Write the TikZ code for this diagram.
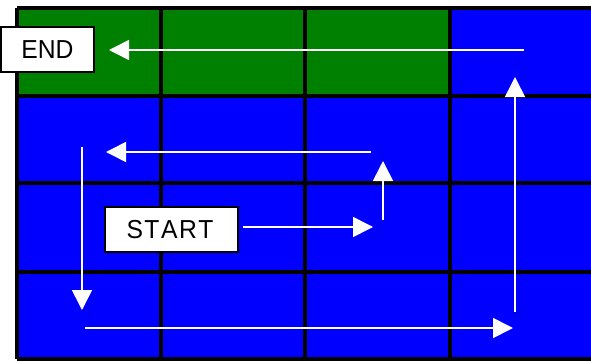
\documentclass[tikz,border=0pt]{standalone}
\usepackage{fontspec}
\setmainfont{Liberation Sans}
\newfontfamily\labelfont[FakeStretch=0.95]{Liberation Sans}
\usetikzlibrary{arrows.meta}
\definecolor{cellgreen}{HTML}{008000}
\definecolor{cellblue}{HTML}{0000FF}
\begin{document}
\begin{tikzpicture}[x=1pt,y=-1pt,
  gridline/.style={line width=3.5pt,black},
  flow/.style={draw=white,line width=1.6pt,-{Triangle[length=20pt,width=20pt]}},
  label/.style={draw=black,line width=1.2pt,fill=white,inner sep=0pt,font=\labelfont\fontsize{26}{28}\selectfont}]
\useasboundingbox (0,0) rectangle (591,361);
\fill[white] (0,0) rectangle (591,361);
% cells
\fill[cellblue] (17,8) rectangle (600,359);
\fill[cellgreen] (17,8) rectangle (450,96);
% grid lines
\foreach \x in {17,161,305,450} \draw[gridline] (\x,8) -- (\x,359);
\foreach \y in {8,96,183,272,359} \draw[gridline] (17,\y) -- (600,\y);
% labels
\node[label,minimum width=93pt,minimum height=45pt] (end) at (47.5,49.5) {END};
\node[label,minimum width=133pt,minimum height=45pt] (start) at (171.5,229.5) {\hspace*{-3pt}S\kern1.5pt T\kern1.5pt A\kern1.5pt R\kern1.5pt T};
% route points
\coordinate (a1) at (373,227);
\coordinate (b0) at (383,220);
\coordinate (b1) at (383,161);
\coordinate (c0) at (371,152);
\coordinate (c1) at (106,152);
\coordinate (d0) at (82,147);
\coordinate (d1) at (82,310);
\coordinate (e0) at (85,328);
\coordinate (e1) at (513,328);
\coordinate (f0) at (515,312);
\coordinate (f1) at (515,77);
\coordinate (g0) at (524,50);
\coordinate (g1) at (109,50);
% arrows
\draw[flow] ([xshift=4pt]start.east |- a1) -- (a1);
\draw[flow] (b0) -- (b1);
\draw[flow] (c0) -- (c1);
\draw[flow] (d0) -- (d1);
\draw[flow] (e0) -- (e1);
\draw[flow] (f0) -- (f1);
\draw[flow] (g0) -- (g1);
\end{tikzpicture}
\end{document}
